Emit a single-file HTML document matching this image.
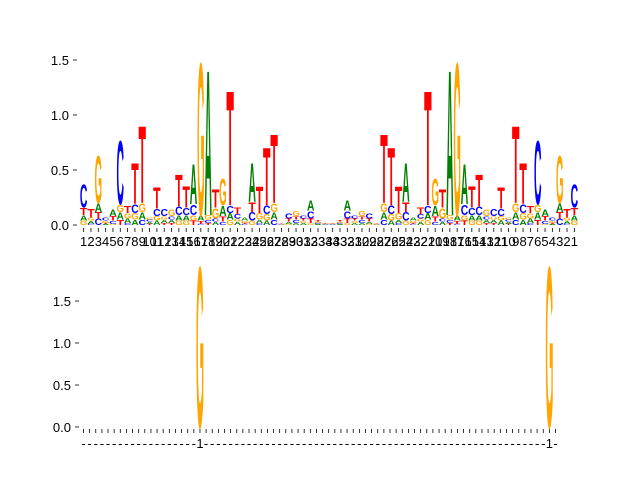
<!DOCTYPE html>
<html><head><meta charset="utf-8"><style>
html,body{margin:0;padding:0;background:#fff}
svg{display:block}
text{font-family:"Liberation Sans","DejaVu Sans",sans-serif}
</style></head><body>
<svg id="chart" width="640" height="480" viewBox="0 0 640 480">
<g id="top"></g>
<g id="bottom"></g>
</svg>
<script>
const halfA=[.05,.03,.08,.01,.06,.07,.04,.05,.07,.02,.04,.03,.03,.05,.05,.38,.05,1.38,.03,.1,.06,.03,.03,.37,.03,.04,.07,.003,.02,.02,.02,.1,.01,.005];
const halfC=[.22,.01,.06,.03,.03,.6,.02,.08,.05,.02,.07,.07,.03,.08,.07,.1,.01,.03,.03,.03,.07,.04,.01,.08,.02,.08,.05,.003,.05,.03,.03,.07,.01,.005];
const halfG=[.04,.03,.45,.02,.01,.07,.05,.06,.08,.02,.04,.03,.06,.04,.04,.05,1.45,.04,.1,.25,.05,.03,.02,.04,.06,.06,.08,.003,.01,.05,.02,.02,.01,.005];
const halfT=[.07,.08,.06,.01,.04,.05,.07,.39,.73,.01,.2,.02,.02,.3,.2,.04,.03,.02,.17,.05,1.09,.06,.01,.09,.25,.55,.65,.003,.03,.03,.02,.04,.01,.005];
const topTicks=[0,0.5,1.0,1.5];
const topTickLabels=["0.0","0.5","1.0","1.5"];
const bottomTicks=[0,0.5,1.0,1.5];
const bottomTickLabels=["0.0","0.5","1.0","1.5"];
const bottomCount=78;
const bottomGPositions=[19,76];
const bottomGHeights=[2.0,2.0];

const NS="http://www.w3.org/2000/svg";
const colors={A:"#008000",C:"#0000ff",G:"#ffa500",T:"#ff0000"};
function mk(tag,attrs,parent){const e=document.createElementNS(NS,tag);for(const k in attrs)e.setAttribute(k,attrs[k]);parent.appendChild(e);return e;}
function glyph(parent,letter,cx,ybot,w,h){
  if(h<=0)return;
  const t=mk('text',{x:0,y:0,'text-anchor':'middle','font-size':100,'font-weight':'bold',fill:colors[letter],textLength:72,lengthAdjust:'spacingAndGlyphs',transform:`translate(${cx},${ybot}) scale(${w/72},${h/72.9})`},parent);
  
  
  t.textContent=letter;
}
const A=halfA.concat(halfA.slice().reverse()),C=halfC.concat(halfC.slice().reverse()),G=halfG.concat(halfG.slice().reverse()),T=halfT.concat(halfT.slice().reverse());
const labels=[];for(let i=1;i<=34;i++)labels.push(String(i));for(let i=34;i>=1;i--)labels.push(String(i));
const topG=document.getElementById('top');
const x0=80,x1=578,n=A.length,step=(x1-x0)/n;
const yTop=v=>225-v*110;
const xTop=i=>x0+(i+0.5)*step;
topTicks.forEach((v,k)=>{
  const l=mk('line',{x1:73,x2:77,y1:yTop(v),y2:yTop(v),stroke:'#000','stroke-width':0.8},topG);
  
  const t=mk('text',{x:69,y:yTop(v)+5,'text-anchor':'end','font-size':13,fill:'#000'},topG);
  
  t.textContent=topTickLabels[k];
});
for(let i=0;i<n;i++){
  const cx=xTop(i);
  const l=mk('line',{x1:cx,x2:cx,y1:228,y2:232,stroke:'#000','stroke-width':0.8},topG);
  
  const t=mk('text',{x:cx,y:246,'text-anchor':'middle','font-size':13,fill:'#000'},topG);
  
  t.textContent=labels[i];
  const stack=[['A',A[i]],['C',C[i]],['G',G[i]],['T',T[i]]].sort((a,b)=>a[1]-b[1]);
  let base=0;
  stack.forEach(([L,h])=>{glyph(topG,L,cx,yTop(base),step*1.02,h*110);base+=h;});
}
const botG=document.getElementById('bottom');
const bx0=83.5,bstep=6.13;
const yBot=v=>427-v*84;
bottomTicks.forEach((v,k)=>{
  const l=mk('line',{x1:75,x2:79,y1:yBot(v),y2:yBot(v),stroke:'#000','stroke-width':0.8},botG);
  
  const t=mk('text',{x:71,y:yBot(v)+5,'text-anchor':'end','font-size':13,fill:'#000'},botG);
  
  t.textContent=bottomTickLabels[k];
});
for(let i=0;i<bottomCount;i++){
  const cx=bx0+i*bstep;
  const l=mk('line',{x1:cx,x2:cx,y1:429,y2:433,stroke:'#000','stroke-width':0.8},botG);
  
  const isG=bottomGPositions.indexOf(i)>=0;
  const t=mk('text',{x:cx,y:448,'text-anchor':'middle','font-size':13,fill:'#000'},botG);
  
  t.textContent=isG?'1':'-';
}
bottomGPositions.forEach((p,k)=>glyph(botG,'G',bx0+p*bstep,yBot(0),8,bottomGHeights[k]*84));
</script>
</body></html>
